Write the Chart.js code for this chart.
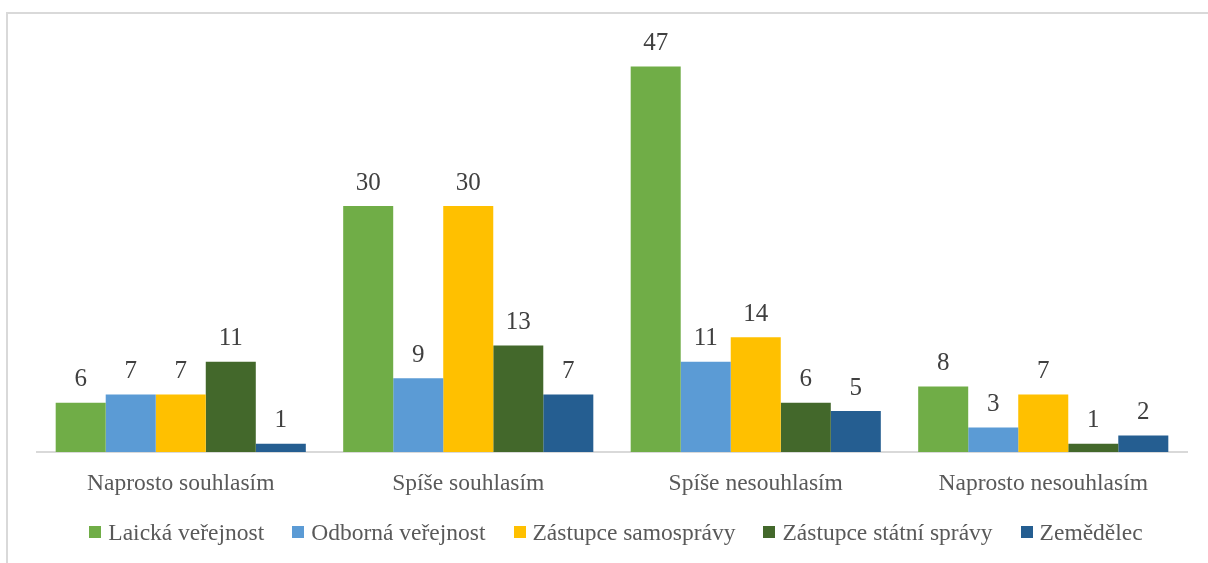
<!DOCTYPE html>
<html>
<head>
<meta charset="utf-8">
<script src="https://cdn.jsdelivr.net/npm/chart.js@4/dist/chart.umd.min.js"></script>
<style>
  html, body { margin: 0; padding: 0; background: #fff; }
  #wrap { position: relative; width: 1208px; height: 563px; overflow: hidden; }
  #frame { position: absolute; left: 6px; top: 12px; width: 1220px; height: 600px; border: 2px solid #d9d9d9; box-sizing: border-box; }
  #box { position: absolute; left: 0; top: 0; width: 1208px; height: 563px; }
  #legend { position: absolute; left: 0; width: 1232px; top: 517px; display: flex; justify-content: center; gap: 28px;
            font-family: "Liberation Serif", "Times New Roman", serif; font-size: 23.5px; color: #595959; line-height: 30px; }
  #legend .item { display: flex; align-items: center; white-space: nowrap; }
  #legend .sw { width: 12px; height: 12px; margin-right: 7px; display: inline-block; }
</style>
</head>
<body>
<div id="wrap">
  <div id="frame"></div>
  <div id="box"><canvas id="c"></canvas></div>
  <div id="legend"></div>
</div>
<script>
const categories = ["Naprosto souhlasím", "Spíše souhlasím", "Spíše nesouhlasím", "Naprosto nesouhlasím"];
const seriesNames = ["Laická veřejnost", "Odborná veřejnost", "Zástupce samosprávy", "Zástupce státní správy", "Zemědělec"];
const laicka = [6, 30, 47, 8];
const odborna = [7, 9, 11, 3];
const samosprava = [7, 30, 14, 7];
const statniSprava = [11, 13, 6, 1];
const zemedelec = [1, 7, 5, 2];
const colors = ["#70AD47", "#5B9BD5", "#FFC000", "#43682B", "#255E91"];

const seriesValues = [laicka, odborna, samosprava, statniSprava, zemedelec];

const dataLabels = {
  id: 'dataLabels',
  afterDatasetsDraw(chart) {
    const ctx = chart.ctx;
    ctx.save();
    ctx.font = '25px "Liberation Serif", "Times New Roman", serif';
    ctx.fillStyle = '#404040';
    ctx.textAlign = 'center';
    ctx.textBaseline = 'middle';
    chart.data.datasets.forEach((ds, i) => {
      const meta = chart.getDatasetMeta(i);
      meta.data.forEach((el, j) => {
        ctx.fillText(String(ds.data[j]), el.x, el.y - 23);
      });
    });
    ctx.restore();
  }
};

new Chart(document.getElementById('c'), {
  type: 'bar',
  data: {
    labels: categories,
    datasets: seriesNames.map((n, i) => ({
      label: n,
      data: seriesValues[i],
      backgroundColor: colors[i],
      borderWidth: 0,
      categoryPercentage: 0.87,
      barPercentage: 1.0
    }))
  },
  options: {
    responsive: true,
    maintainAspectRatio: false,
    devicePixelRatio: 1,
    animation: false,
    layout: { padding: { left: 37, right: 21, top: 42, bottom: 0 } },
    plugins: { legend: { display: false }, tooltip: { enabled: false } },
    scales: {
      x: {
        grid: { display: false, drawTicks: false },
        border: { display: true, color: '#d9d9d9', width: 2 },
        ticks: { color: '#595959', padding: 18, font: { family: '"Liberation Serif", "Times New Roman", serif', size: 23.5 } },
        afterFit(scale) { scale.height = 111; }
      },
      y: {
        display: false,
        min: 0,
        max: 50
      }
    }
  },
  plugins: [dataLabels]
});

const lg = document.getElementById('legend');
seriesNames.forEach((n, i) => {
  const it = document.createElement('div');
  it.className = 'item';
  const sw = document.createElement('span');
  sw.className = 'sw';
  sw.style.background = colors[i];
  const t = document.createElement('span');
  t.textContent = n;
  it.appendChild(sw);
  it.appendChild(t);
  lg.appendChild(it);
});
</script>
</body>
</html>
